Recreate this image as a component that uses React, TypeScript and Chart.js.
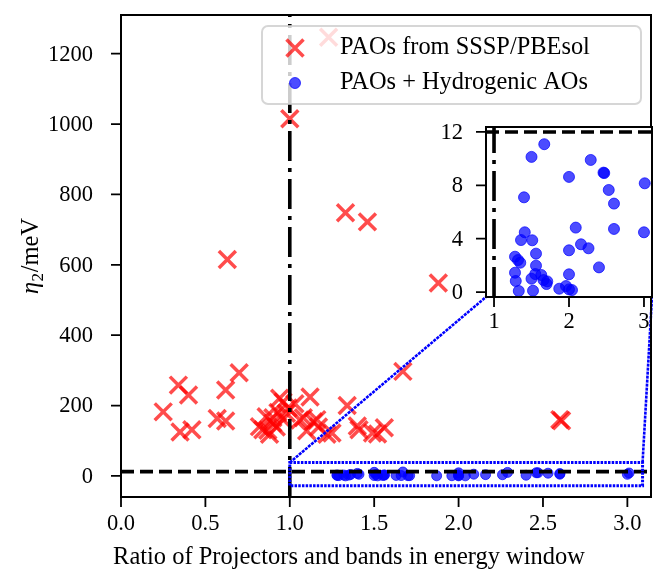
import React, { useEffect, useRef } from "react";
import { Chart, registerables } from "chart.js";

Chart.register(...registerables);

// ---------- data ----------
const redLabel = "PAOs from SSSP/PBEsol";
const blueLabel = "PAOs + Hydrogenic AOs";
const xTitle = "Ratio of Projectors and bands in energy window";
const yTitleParts = ["η", "2", "/meV"];

const redX = [1.23, 1.0, 1.33, 1.46, 0.63, 1.88, 0.7, 1.67, 0.34, 0.62, 0.4, 1.34, 0.25, 0.57, 0.62, 0.35, 0.42, 2.6, 2.61, 1.4, 1.41, 1.49, 1.52, 1.56, 1.25, 0.94, 1.12, 0.96, 0.99, 0.86, 0.9, 0.98, 1.06, 1.14, 1.16, 0.84, 0.92, 0.88, 0.82, 1.1, 1.22, 1.17, 0.96, 1.08, 0.9, 0.87, 1.03, 0.93];
const redY = [1247, 1015, 748, 722, 615, 548, 293, 297, 258, 244, 230, 200, 182, 163, 156, 125, 131, 160, 157, 142, 131, 122, 119, 137, 122, 221, 224, 210, 193, 168, 150, 178, 159, 154, 160, 131, 139, 118, 140, 128, 118, 139, 160, 165, 165, 130, 205, 180];

const blueX = [1.67, 1.5, 2.29, 2.46, 2.47, 2.0, 3.01, 1.4, 2.53, 2.6, 2.09, 2.6, 3.0, 1.41, 1.36, 1.51, 2.16, 2.26, 2.0, 1.56, 1.28, 1.32, 1.35, 1.56, 2.4, 1.28, 1.55, 1.63, 2.0, 1.5, 1.66, 1.71, 1.29, 1.7, 1.87, 1.96, 2.0, 2.04, 1.33, 1.52];
const blueY = [11.08, 10.13, 9.9, 8.95, 8.92, 8.63, 8.15, 7.1, 7.65, 6.63, 4.83, 4.73, 4.48, 4.48, 3.9, 3.88, 3.58, 3.28, 3.13, 2.88, 2.65, 2.4, 2.2, 1.98, 1.85, 1.45, 1.35, 1.28, 1.33, 1.0, 0.9, 0.8, 0.83, 0.6, 0.25, 0.45, 0.2, 0.15, 0.08, 0.1];

const xTicks = [0, 0.5, 1.0, 1.5, 2.0, 2.5, 3.0];
const yTicks = [0, 200, 400, 600, 800, 1000, 1200];
const insetXTicks = [1, 2, 3];
const insetYTicks = [0, 4, 8, 12];

const X_LIMITS = [0, 3.14];
const Y_LIMITS = [-60, 1310];
const INSET_X_LIMITS = [0.893, 3.107];
const INSET_Y_LIMITS = [-0.37, 12.37];

const RATIO_THRESHOLD = 1.0;
const ETA_THRESHOLD = 12;
const ZOOM_BOX = { x0: 1.0, x1: 3.09, y0: -28, y1: 38 };

// ---------- layout / style ----------
const W = 653;
const H = 572;
const FONT = "'Liberation Serif', 'DejaVu Serif', serif";
const INSET_CANVAS = { left: 430, top: 110, width: 223, height: 230 };
const INSET_AREA = { left: 486, top: 127, right: 652, bottom: 297 };
const LEGEND = { left: 262, top: 26, width: 379, height: 78, markerX: 295, textX: 340, rows: [48, 83], textWidth: 250 };
const X_TITLE = { x: 349, y: 558, width: 472 };
const Y_TITLE = { x: 30 };
const TICK_FIT = { text: "1200", width: 45 };
const MAIN_TICKS = { len: 10, yGap: 28, xLabelY: 524 };
const INSET_TICKS = { len: 10, yGap: 23, xLabelDy: 25 };

const RED = "rgba(255,0,0,0.7)";
const BLUE = "rgba(0,0,255,0.7)";

const redPts = redX.map((x, i) => ({ x, y: redY[i] }));
const bluePts = blueX.map((x, i) => ({ x, y: blueY[i] }));

function fitSize(ctx: CanvasRenderingContext2D, text: string, target: number) {
  ctx.save();
  ctx.font = `100px ${FONT}`;
  const w = ctx.measureText(text).width;
  ctx.restore();
  return (100 * target) / w;
}

function drawRefLines(chart: any) {
  const { ctx, chartArea: a, scales } = chart;
  ctx.save();
  ctx.beginPath();
  ctx.rect(a.left, a.top, a.right - a.left, a.bottom - a.top);
  ctx.clip();
  ctx.strokeStyle = "#000";
  ctx.lineWidth = 3.6;
  ctx.lineCap = "butt";
  const py = scales.y.getPixelForValue(ETA_THRESHOLD);
  ctx.setLineDash([13, 6]);
  ctx.beginPath();
  ctx.moveTo(a.left, py);
  ctx.lineTo(a.right, py);
  ctx.stroke();
  const px = scales.x.getPixelForValue(RATIO_THRESHOLD);
  ctx.setLineDash([30, 7, 4, 7]);
  ctx.beginPath();
  ctx.moveTo(px, a.bottom);
  ctx.lineTo(px, a.top);
  ctx.stroke();
  ctx.restore();
}

function drawFrame(chart: any) {
  const { ctx, chartArea: a } = chart;
  ctx.save();
  ctx.setLineDash([]);
  ctx.strokeStyle = "#000";
  ctx.lineWidth = 2;
  ctx.strokeRect(a.left, a.top, a.right - a.left, a.bottom - a.top);
  ctx.restore();
}

function drawAxes(chart: any, xt: number[], yt: number[], fmtX: (v: number) => string, cfg: { len: number; yGap: number; xLabelY: number }) {
  const { ctx, chartArea: a, scales } = chart;
  const size = fitSize(ctx, TICK_FIT.text, TICK_FIT.width);
  ctx.save();
  ctx.setLineDash([]);
  ctx.strokeStyle = "#000";
  ctx.lineWidth = 1.8;
  ctx.beginPath();
  xt.forEach((v) => {
    const px = scales.x.getPixelForValue(v);
    ctx.moveTo(px, a.bottom);
    ctx.lineTo(px, a.bottom + cfg.len);
  });
  yt.forEach((v) => {
    const py = scales.y.getPixelForValue(v);
    ctx.moveTo(a.left, py);
    ctx.lineTo(a.left - cfg.len, py);
  });
  ctx.stroke();
  ctx.fillStyle = "#000";
  ctx.font = `${size}px ${FONT}`;
  ctx.textBaseline = "middle";
  ctx.textAlign = "center";
  xt.forEach((v) => ctx.fillText(fmtX(v), scales.x.getPixelForValue(v), cfg.xLabelY));
  ctx.textAlign = "right";
  yt.forEach((v) => ctx.fillText(String(v), a.left - cfg.yGap, scales.y.getPixelForValue(v) + 1));
  ctx.restore();
}

const mainPlugin = {
  id: "mainDecor",
  afterDatasetsDraw(chart: any) {
    drawRefLines(chart);
    const { ctx, scales, chartArea: a } = chart;
    const x0 = scales.x.getPixelForValue(ZOOM_BOX.x0);
    const x1 = scales.x.getPixelForValue(ZOOM_BOX.x1);
    const y0 = scales.y.getPixelForValue(ZOOM_BOX.y0);
    const y1 = scales.y.getPixelForValue(ZOOM_BOX.y1);
    ctx.save();
    ctx.strokeStyle = "rgb(0,0,255)";
    ctx.lineWidth = 3;
    ctx.setLineDash([2.5, 1.2]);
    ctx.strokeRect(x0, y1, x1 - x0, y0 - y1);
    ctx.lineWidth = 2.6;
    ctx.setLineDash([3, 1]);
    ctx.beginPath();
    ctx.moveTo(x0, y1);
    ctx.lineTo(INSET_AREA.left, INSET_AREA.bottom);
    ctx.moveTo(x1, y1);
    ctx.lineTo(INSET_AREA.right, INSET_AREA.bottom);
    ctx.stroke();
    ctx.restore();
    drawFrame(chart);
    drawAxes(chart, xTicks, yTicks, (v) => v.toFixed(1), { len: MAIN_TICKS.len, yGap: MAIN_TICKS.yGap, xLabelY: MAIN_TICKS.xLabelY });

    // axis titles
    const tSize = fitSize(ctx, xTitle, X_TITLE.width);
    ctx.save();
    ctx.fillStyle = "#000";
    ctx.textBaseline = "middle";
    ctx.textAlign = "center";
    ctx.font = `${tSize}px ${FONT}`;
    ctx.fillText(xTitle, X_TITLE.x, X_TITLE.y);
    ctx.translate(Y_TITLE.x, (a.top + a.bottom) / 2);
    ctx.rotate(-Math.PI / 2);
    const fMain = `${tSize}px ${FONT}`;
    const fIt = `italic ${tSize}px ${FONT}`;
    const fSub = `${tSize * 0.7}px ${FONT}`;
    ctx.font = fIt;
    const w0 = ctx.measureText(yTitleParts[0]).width;
    ctx.font = fSub;
    const w1 = ctx.measureText(yTitleParts[1]).width;
    ctx.font = fMain;
    const w2 = ctx.measureText(yTitleParts[2]).width;
    let cx = -(w0 + w1 + w2 + 1) / 2;
    ctx.textAlign = "left";
    ctx.textBaseline = "alphabetic";
    const base = tSize * 0.33;
    ctx.font = fIt;
    ctx.fillText(yTitleParts[0], cx, base);
    cx += w0 + 0.5;
    ctx.font = fSub;
    ctx.fillText(yTitleParts[1], cx, base + tSize * 0.2);
    cx += w1 + 0.5;
    ctx.font = fMain;
    ctx.fillText(yTitleParts[2], cx, base);
    ctx.restore();
  },
  afterDraw(chart: any) {
    const ctx = chart.ctx;
    ctx.save();
    ctx.setLineDash([]);
    ctx.beginPath();
    ctx.roundRect(LEGEND.left, LEGEND.top, LEGEND.width, LEGEND.height, 6);
    ctx.fillStyle = "rgba(255,255,255,0.8)";
    ctx.fill();
    ctx.strokeStyle = "rgba(204,204,204,0.8)";
    ctx.lineWidth = 2;
    ctx.stroke();
    const [r1, r2] = LEGEND.rows;
    const d = 8.5;
    ctx.strokeStyle = RED;
    ctx.lineWidth = 3.5;
    ctx.beginPath();
    ctx.moveTo(LEGEND.markerX - d, r1 - d);
    ctx.lineTo(LEGEND.markerX + d, r1 + d);
    ctx.moveTo(LEGEND.markerX - d, r1 + d);
    ctx.lineTo(LEGEND.markerX + d, r1 - d);
    ctx.stroke();
    ctx.beginPath();
    ctx.arc(LEGEND.markerX, r2, 5.5, 0, Math.PI * 2);
    ctx.fillStyle = BLUE;
    ctx.fill();
    ctx.lineWidth = 1;
    ctx.strokeStyle = BLUE;
    ctx.stroke();
    const lSize = fitSize(ctx, redLabel, LEGEND.textWidth);
    ctx.fillStyle = "#000";
    ctx.font = `${lSize}px ${FONT}`;
    ctx.textBaseline = "middle";
    ctx.textAlign = "left";
    ctx.fillText(redLabel, LEGEND.textX, r1);
    ctx.fillText(blueLabel, LEGEND.textX, r2);
    ctx.restore();
  },
};

const insetPlugin = {
  id: "insetDecor",
  beforeDatasetsDraw(chart: any) {
    const { ctx, chartArea: a } = chart;
    ctx.save();
    ctx.fillStyle = "#fff";
    ctx.fillRect(a.left, a.top, a.right - a.left, a.bottom - a.top);
    ctx.restore();
  },
  afterDatasetsDraw(chart: any) {
    drawRefLines(chart);
    drawFrame(chart);
    drawAxes(chart, insetXTicks, insetYTicks, (v) => String(v), {
      len: INSET_TICKS.len,
      yGap: INSET_TICKS.yGap,
      xLabelY: chart.chartArea.bottom + INSET_TICKS.xLabelDy,
    });
  },
};

function axis(min: number, max: number, ticks: number[], size: number) {
  return {
    type: "linear" as const,
    min,
    max,
    afterBuildTicks: (s: any) => {
      s.ticks = ticks.map((v) => ({ value: v }));
    },
    afterFit: (s: any) => {
      if (s.isHorizontal()) s.height = size;
      else s.width = size;
      s.paddingTop = 0;
      s.paddingBottom = 0;
      s.paddingLeft = 0;
      s.paddingRight = 0;
    },
    grid: { display: false },
    border: { display: false },
    ticks: { display: false },
    title: { display: false },
  };
}

export default function App() {
  const mainRef = useRef<HTMLCanvasElement>(null);
  const insetRef = useRef<HTMLCanvasElement>(null);

  useEffect(() => {
    const main = new Chart(mainRef.current as HTMLCanvasElement, {
      type: "scatter",
      data: {
        datasets: [
          {
            label: redLabel,
            data: redPts,
            pointStyle: "crossRot",
            pointRadius: 12,
            pointBorderWidth: 3.5,
            pointBorderColor: RED,
            pointBackgroundColor: RED,
          } as any,
          {
            label: blueLabel,
            data: bluePts,
            pointStyle: "circle",
            pointRadius: 5,
            pointBorderWidth: 1,
            pointBorderColor: BLUE,
            pointBackgroundColor: BLUE,
          } as any,
        ],
      },
      options: {
        responsive: false,
        animation: false,
        events: [],
        layout: { autoPadding: false, padding: { left: 0, top: 15, right: 2, bottom: 0 } },
        plugins: { legend: { display: false }, tooltip: { enabled: false } },
        scales: {
          x: axis(X_LIMITS[0], X_LIMITS[1], xTicks, 75),
          y: axis(Y_LIMITS[0], Y_LIMITS[1], yTicks, 121),
        },
      } as any,
      plugins: [mainPlugin],
    });

    const inset = new Chart(insetRef.current as HTMLCanvasElement, {
      type: "scatter",
      data: {
        datasets: [
          {
            label: blueLabel,
            data: bluePts,
            pointStyle: "circle",
            pointRadius: 5.5,
            pointBorderWidth: 1,
            pointBorderColor: BLUE,
            pointBackgroundColor: BLUE,
          } as any,
        ],
      },
      options: {
        responsive: false,
        animation: false,
        events: [],
        layout: {
          autoPadding: false,
          padding: { left: 0, top: INSET_AREA.top - INSET_CANVAS.top, right: INSET_CANVAS.left + INSET_CANVAS.width - INSET_AREA.right, bottom: 0 },
        },
        plugins: { legend: { display: false }, tooltip: { enabled: false } },
        scales: {
          x: axis(INSET_X_LIMITS[0], INSET_X_LIMITS[1], insetXTicks, INSET_CANVAS.top + INSET_CANVAS.height - INSET_AREA.bottom),
          y: axis(INSET_Y_LIMITS[0], INSET_Y_LIMITS[1], insetYTicks, INSET_AREA.left - INSET_CANVAS.left),
        },
      } as any,
      plugins: [insetPlugin],
    });

    return () => {
      main.destroy();
      inset.destroy();
    };
  }, []);

  return (
    <div style={{ position: "fixed", left: 0, top: 0, width: W, height: H, background: "#fff" }}>
      <canvas ref={mainRef} width={W} height={H} style={{ position: "absolute", left: 0, top: 0 }} />
      <canvas
        ref={insetRef}
        width={INSET_CANVAS.width}
        height={INSET_CANVAS.height}
        style={{ position: "absolute", left: INSET_CANVAS.left, top: INSET_CANVAS.top }}
      />
    </div>
  );
}
